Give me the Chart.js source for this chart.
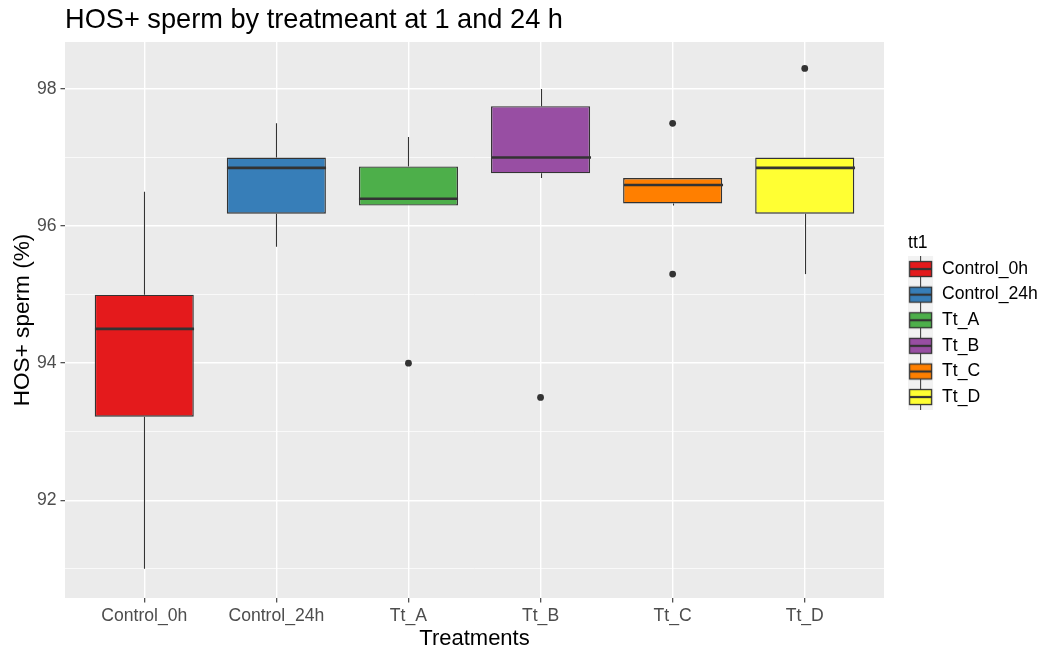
<!DOCTYPE html>
<html>
<head>
<meta charset="utf-8">
<title>HOS+ sperm by treatment</title>
<script src="https://cdn.jsdelivr.net/npm/chart.js@4.4.1/dist/chart.umd.min.js"></script>
<style>
  html, body { margin: 0; padding: 0; background: #ffffff; }
  #wrap { width: 1042px; height: 652px; position: relative; }
</style>
</head>
<body>
<div id="wrap"><canvas id="chart"></canvas></div>
<script>
// box statistics, one value per treatment
const categories = ["Control_0h", "Control_24h", "Tt_A", "Tt_B", "Tt_C", "Tt_D"];
const whiskerLow = [91.0, 95.7, 96.3, 96.7, 96.3, 95.3];
const q1 = [93.22, 96.18, 96.3, 96.77, 96.33, 96.18];
const medians = [94.5, 96.85, 96.4, 97.0, 96.6, 96.85];
const q3 = [95.0, 97.0, 96.87, 97.75, 96.7, 97.0];
const whiskerHigh = [96.5, 97.5, 97.3, 98.0, 96.7, 97.0];

// outliers: position (1-based treatment) and value
const outlierGroup = [3, 4, 5, 5, 6];
const outlierValue = [94.0, 93.5, 97.5, 95.3, 98.3];

const fillColors = ["#E41A1C", "#377EB8", "#4DAF4A", "#984EA3", "#FF7F00", "#FFFF33"];
const yTickValues = [91, 92, 93, 94, 95, 96, 97, 98];
const yLabelValues = [92, 94, 96, 98];

Chart.defaults.font.family = '"Liberation Sans", Arial, sans-serif';

// little boxplot glyph for each legend key
function makeKey(color) {
  const c = document.createElement("canvas");
  c.width = 33;
  c.height = 26;
  const g = c.getContext("2d");
  g.fillStyle = "#F2F2F2";
  g.fillRect(0, 0, 25, 26);
  g.strokeStyle = "#333333";
  g.lineWidth = 1;
  g.beginPath();
  g.moveTo(12.5, 0);
  g.lineTo(12.5, 26);
  g.stroke();
  g.fillStyle = color;
  g.fillRect(1.5, 5.5, 22, 15);
  g.lineWidth = 1.3;
  g.strokeRect(1.5, 5.5, 22, 15);
  g.lineWidth = 2.2;
  g.beginPath();
  g.moveTo(1.5, 13);
  g.lineTo(23.5, 13);
  g.stroke();
  return c;
}
const keyGlyphs = fillColors.map(makeKey);

const panelBg = {
  id: "panelBg",
  beforeDraw(chart) {
    const { ctx, chartArea: a } = chart;
    ctx.save();
    ctx.fillStyle = "#EBEBEB";
    ctx.fillRect(a.left, a.top, a.right - a.left, a.bottom - a.top);
    ctx.restore();
  }
};

// whiskers and median lines, placed with the chart's own scales
const boxLines = {
  id: "boxLines",
  afterDatasetsDraw(chart) {
    const { ctx, scales: { x, y } } = chart;
    const bars = chart.getDatasetMeta(0).data;
    ctx.save();
    ctx.strokeStyle = "#333333";
    categories.forEach((_, i) => {
      const cx = Math.round(x.getPixelForValue(i + 1)) + 0.5;
      const half = bars[i].width / 2;
      ctx.lineWidth = 1.1;
      ctx.beginPath();
      ctx.moveTo(cx, y.getPixelForValue(q3[i]));
      ctx.lineTo(cx, y.getPixelForValue(whiskerHigh[i]));
      ctx.moveTo(cx, y.getPixelForValue(q1[i]));
      ctx.lineTo(cx, y.getPixelForValue(whiskerLow[i]));
      ctx.stroke();
      const my = y.getPixelForValue(medians[i]);
      ctx.lineWidth = 2.6;
      ctx.beginPath();
      ctx.moveTo(cx - half, my);
      ctx.lineTo(cx + half, my);
      ctx.stroke();
    });
    ctx.restore();
  }
};

const ctx = document.getElementById("chart").getContext("2d");

new Chart(ctx, {
  type: "bar",
  data: {
    datasets: [
      {
        label: "box",
        data: categories.map((c, i) => ({ x: i + 1, y: [q1[i], q3[i]] })),
        backgroundColor: fillColors,
        borderColor: "#333333",
        borderWidth: 1.4,
        borderSkipped: false,
        barPercentage: 0.75,
        categoryPercentage: 1.0
      },
      {
        type: "scatter",
        label: "outliers",
        data: outlierGroup.map((g, i) => ({ x: g, y: outlierValue[i] })),
        backgroundColor: "#333333",
        borderWidth: 0,
        pointRadius: 3.4
      }
    ]
  },
  options: {
    responsive: true,
    maintainAspectRatio: false,
    animation: false,
    events: [],
    layout: { padding: 0 },
    scales: {
      x: {
        type: "linear",
        min: 0.4,
        max: 6.6,
        offset: false,
        afterBuildTicks: (scale) => {
          scale.ticks = categories.map((c, i) => ({ value: i + 1 }));
        },
        afterFit: (scale) => { scale.height = 54; },
        grid: {
          offset: false,
          color: "#FFFFFF",
          lineWidth: 1.4,
          tickColor: "#333333",
          tickWidth: 1.1,
          tickLength: 4.5
        },
        border: { display: false },
        ticks: {
          callback: (v) => categories[v - 1],
          color: "#4D4D4D",
          font: { size: 17.6 },
          padding: 3,
          maxRotation: 0,
          autoSkip: false
        },
        title: {
          display: true,
          text: "Treatments",
          color: "#000000",
          font: { size: 22 },
          padding: { top: 0, bottom: 0 }
        }
      },
      y: {
        min: 90.574,
        max: 98.686,
        afterBuildTicks: (scale) => {
          scale.ticks = yTickValues.map((v) => ({ value: v }));
        },
        afterFit: (scale) => { scale.width = 65; },
        grid: {
          color: "#FFFFFF",
          lineWidth: (c) => (yLabelValues.includes(c.tick.value) ? 1.4 : 0.7),
          tickColor: (c) => (yLabelValues.includes(c.tick.value) ? "#333333" : "rgba(0,0,0,0)"),
          tickWidth: 1.1,
          tickLength: 4.5
        },
        border: { display: false },
        ticks: {
          callback: (v) => (yLabelValues.includes(v) ? String(v) : ""),
          color: "#4D4D4D",
          font: { size: 17.6 },
          padding: 4
        },
        title: {
          display: true,
          text: "HOS+ sperm (%)",
          color: "#000000",
          font: { size: 22.6 },
          padding: { top: 9.5, bottom: 0 }
        }
      },
      gap: {
        type: "linear",
        position: "right",
        display: true,
        grid: { display: false },
        border: { display: false },
        ticks: { display: false },
        afterFit: (scale) => { scale.width = 24; }
      }
    },
    plugins: {
      tooltip: { enabled: false },
      title: {
        display: true,
        text: "HOS+ sperm by treatmeant at 1 and 24 h",
        align: "start",
        fullSize: false,
        color: "#000000",
        font: { size: 27.2, weight: "normal" },
        padding: { top: 4, bottom: 5.36 }
      },
      legend: {
        position: "right",
        maxWidth: 134,
        title: {
          display: true,
          text: "tt1",
          position: "start",
          color: "#000000",
          font: { size: 17.6, lineHeight: 0.8 },
          padding: { top: -3.4, bottom: 3.4 }
        },
        labels: {
          usePointStyle: true,
          pointStyleWidth: 17.25,
          padding: 8,
          color: "#000000",
          font: { size: 17.6 },
          generateLabels: () => categories.map((c, i) => ({
            text: c,
            pointStyle: keyGlyphs[i],
            fillStyle: fillColors[i],
            strokeStyle: "#333333",
            lineWidth: 0,
            hidden: false,
            index: i,
            datasetIndex: 0
          }))
        }
      }
    }
  },
  plugins: [panelBg, boxLines]
});
</script>
</body>
</html>
